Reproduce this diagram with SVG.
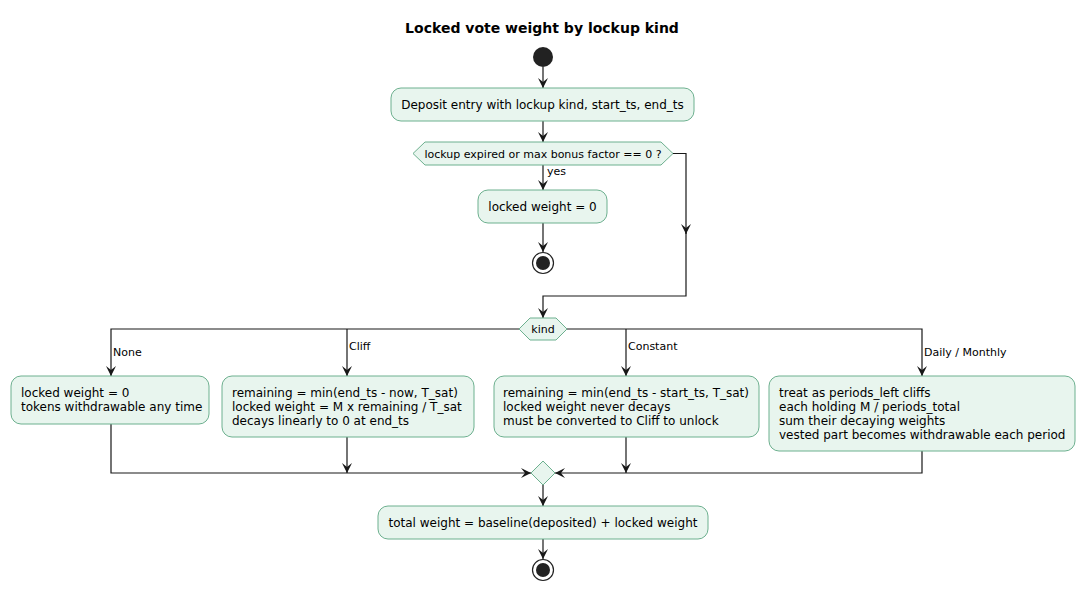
<svg xmlns="http://www.w3.org/2000/svg" width="1085" height="591" viewBox="0 0 1085 591">
<style>
text{font-family:"DejaVu Sans",sans-serif;font-size:12px;fill:#000}
.box{fill:#E8F5EE;stroke:#6DB08F;stroke-width:1}
.ln{fill:none;stroke:#181818;stroke-width:1.2}
.lbl{font-size:11px}
</style>
<defs>
<marker id="a" viewBox="0 0 10 10" refX="10" refY="5" markerWidth="10" markerHeight="10" markerUnits="userSpaceOnUse" orient="auto">
<path d="M0,0 L10,5 L0,10 L4,5 Z" fill="#181818"/>
</marker>
</defs>
<rect width="1085" height="591" fill="#fff"/>
<text x="542" y="33" text-anchor="middle" style="font-weight:bold;font-size:14px">Locked vote weight by lockup kind</text>
<g id="connectors">
<path class="ln" d="M543,67 V88" marker-end="url(#a)"/>
<path class="ln" d="M543,121 V142" marker-end="url(#a)"/>
<path class="ln" d="M543,165 V190" marker-end="url(#a)"/>
<path class="ln" d="M543,223 V252" marker-end="url(#a)"/>
<path class="ln" d="M673,153.5 H686 V234" marker-end="url(#a)"/>
<path class="ln" d="M686,230 V296 H543 V318" marker-end="url(#a)"/>
<path class="ln" d="M519,329 H111 V376" marker-end="url(#a)"/>
<path class="ln" d="M347,329 V376" marker-end="url(#a)"/>
<path class="ln" d="M567,329 H922 V376" marker-end="url(#a)"/>
<path class="ln" d="M626,329 V376" marker-end="url(#a)"/>
<path class="ln" d="M111,424 V473 H531" marker-end="url(#a)"/>
<path class="ln" d="M347,437 V473" marker-end="url(#a)"/>
<path class="ln" d="M626,437 V473" marker-end="url(#a)"/>
<path class="ln" d="M922,451 V473 H555" marker-end="url(#a)"/>
<path class="ln" d="M543,485 V506" marker-end="url(#a)"/>
<path class="ln" d="M543,539 V559" marker-end="url(#a)"/>
<text x="547" y="175" class="lbl">yes</text>
<text x="113" y="356" class="lbl">None</text>
<text x="349" y="350" class="lbl">Cliff</text>
<text x="628" y="350" class="lbl">Constant</text>
<text x="924" y="356" class="lbl">Daily / Monthly</text>
</g>
<g id="start"><circle cx="543" cy="57" r="10" fill="#222"/></g>
<g id="deposit"><rect class="box" x="391" y="88" width="303" height="33" rx="10"/><text x="542.5" y="109" text-anchor="middle">Deposit entry with lockup kind, start_ts, end_ts</text></g>
<g id="check"><polygon class="box" points="413,153.5 425,142 661,142 673,153.5 661,165 425,165"/><text x="543" y="157.5" text-anchor="middle" class="lbl">lockup expired or max bonus factor == 0 ?</text></g>
<g id="zero"><rect class="box" x="478" y="190" width="129" height="33" rx="10"/><text x="542.5" y="211" text-anchor="middle">locked weight = 0</text></g>
<g id="stop1"><circle cx="543" cy="263" r="10.5" fill="#fff" stroke="#222" stroke-width="1.2"/><circle cx="543" cy="263" r="7" fill="#222"/></g>
<g id="kind"><polygon class="box" points="519,329 530,318 556,318 567,329 556,340 530,340"/><text x="543" y="333" text-anchor="middle" class="lbl">kind</text></g>
<g id="none"><rect class="box" x="11" y="376" width="198" height="48" rx="10"/><text x="21" y="397">locked weight = 0</text><text x="21" y="411">tokens withdrawable any time</text></g>
<g id="cliff"><rect class="box" x="222" y="376" width="252" height="61" rx="10"/><text x="232" y="397">remaining = min(end_ts - now, T_sat)</text><text x="232" y="411">locked weight = M x remaining / T_sat</text><text x="232" y="425">decays linearly to 0 at end_ts</text></g>
<g id="constant"><rect class="box" x="494" y="376" width="265" height="61" rx="10"/><text x="503" y="397">remaining = min(end_ts - start_ts, T_sat)</text><text x="503" y="411">locked weight never decays</text><text x="503" y="425">must be converted to Cliff to unlock</text></g>
<g id="daily"><rect class="box" x="769" y="376" width="306" height="75" rx="10"/><text x="779" y="397">treat as periods_left cliffs</text><text x="779" y="411">each holding M / periods_total</text><text x="779" y="425">sum their decaying weights</text><text x="779" y="439">vested part becomes withdrawable each period</text></g>
<g id="merge"><polygon class="box" points="543,461 555,473 543,485 531,473"/></g>
<g id="total"><rect class="box" x="378" y="506" width="330" height="33" rx="10"/><text x="543" y="527" text-anchor="middle">total weight = baseline(deposited) + locked weight</text></g>
<g id="stop2"><circle cx="543" cy="570" r="10.5" fill="#fff" stroke="#222" stroke-width="1.2"/><circle cx="543" cy="570" r="7" fill="#222"/></g>
</svg>
